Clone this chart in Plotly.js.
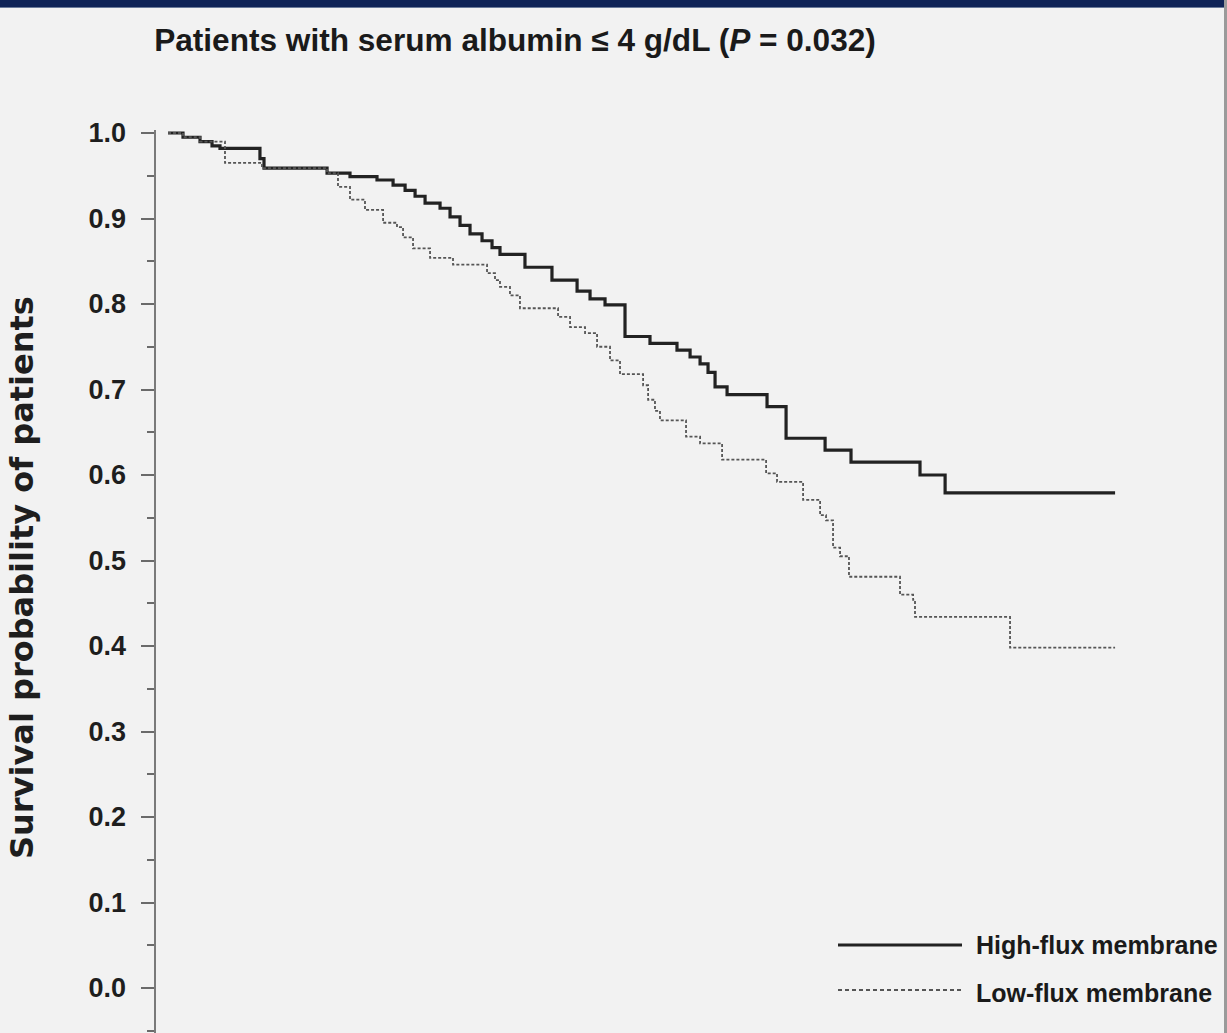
<!DOCTYPE html>
<html>
<head>
<meta charset="utf-8">
<script src="https://cdn.plot.ly/plotly-3.0.1.min.js"></script>
<style>
  html, body { margin: 0; padding: 0; background: #f2f2f2; }
  #wrap { position: relative; width: 1227px; height: 1033px; overflow: hidden; }
  #chart { width: 1227px; height: 1033px; }
  #band { position: absolute; left: 0; top: 0; width: 1227px; height: 7px; background: #0f2357; border-bottom: 1px solid #6a7a9a; }
  #redge { position: absolute; right: 0; top: 0; width: 3px; height: 1033px; background: #9a9a9a; }
</style>
</head>
<body>
<div id="wrap">
  <div id="chart"></div>
  <div id="band"></div>
  <div id="redge"></div>
</div>
<script>
// Follow-up time (years) at which each survival step occurs, and survival after the step
const highFluxTime = [0.000, 0.111, 0.237, 0.326, 0.385, 0.681, 0.711, 1.178, 1.348, 1.548, 1.667, 1.756, 1.830, 1.904, 2.015, 2.089, 2.163, 2.237, 2.326, 2.400, 2.459, 2.644, 2.844, 3.030, 3.126, 3.237, 3.385, 3.570, 3.770, 3.867, 3.941, 4.000, 4.052, 4.141, 4.437, 4.578, 4.867, 5.059, 5.570, 5.756, 7.015];
const highFluxSurv = [1.000, 0.995, 0.990, 0.985, 0.982, 0.970, 0.959, 0.953, 0.949, 0.945, 0.939, 0.933, 0.926, 0.918, 0.912, 0.902, 0.892, 0.882, 0.874, 0.866, 0.858, 0.843, 0.828, 0.815, 0.806, 0.799, 0.762, 0.754, 0.746, 0.738, 0.730, 0.720, 0.703, 0.694, 0.680, 0.643, 0.629, 0.615, 0.600, 0.579, 0.579];

const lowFluxTime = [0.000, 0.111, 0.237, 0.422, 0.696, 1.178, 1.259, 1.348, 1.459, 1.593, 1.696, 1.741, 1.815, 1.941, 2.111, 2.363, 2.422, 2.459, 2.533, 2.607, 2.889, 2.978, 3.089, 3.178, 3.274, 3.348, 3.519, 3.556, 3.607, 3.644, 3.837, 3.941, 4.104, 4.430, 4.511, 4.704, 4.830, 4.874, 4.926, 4.978, 5.044, 5.422, 5.519, 5.533, 6.237, 7.015];
const lowFluxSurv = [1.000, 0.995, 0.990, 0.965, 0.959, 0.953, 0.937, 0.922, 0.910, 0.895, 0.890, 0.878, 0.865, 0.854, 0.846, 0.836, 0.828, 0.820, 0.810, 0.795, 0.785, 0.773, 0.766, 0.750, 0.734, 0.718, 0.705, 0.688, 0.675, 0.664, 0.645, 0.637, 0.618, 0.602, 0.592, 0.571, 0.553, 0.547, 0.515, 0.505, 0.481, 0.460, 0.454, 0.434, 0.398, 0.398];

const yTickVals = [0.0, 0.1, 0.2, 0.3, 0.4, 0.5, 0.6, 0.7, 0.8, 0.9, 1.0];
const yTickText = ["0.0", "0.1", "0.2", "0.3", "0.4", "0.5", "0.6", "0.7", "0.8", "0.9", "1.0"];

const seriesNames = ["High-flux membrane", "Low-flux membrane"];
const titleText = "Patients with serum albumin \u2264 4 g/dL (<i>P</i> = 0.032)";
const yTitleText = "Survival probability of patients";

const narrow = "Liberation Sans Narrow, Liberation Sans, Arial, sans-serif";
const wide = "DejaVu Sans, Verdana, sans-serif";

const traces = [
  {
    x: highFluxTime, y: highFluxSurv, type: "scatter", mode: "lines",
    line: { shape: "hv", color: "#222222", width: 3.2 },
    name: seriesNames[0], showlegend: false, hoverinfo: "x+y"
  },
  {
    x: lowFluxTime, y: lowFluxSurv, type: "scatter", mode: "lines",
    line: { shape: "hv", color: "#555555", width: 1.8, dash: "3px,2px" },
    name: seriesNames[1], showlegend: false, hoverinfo: "x+y"
  }
];

// plot area: left 156px, right edge 1227, top 130, bottom 1033
const W = 1227, H = 1033, L = 156, T = 130;
const pw = W - L, ph = H - T;
function px2paperX(p) { return (p - L) / pw; }
function px2paperY(p) { return (H - p) / ph; }

const layout = {
  width: W, height: H,
  margin: { l: L, r: 0, t: T, b: 0, pad: 0 },
  paper_bgcolor: "#f2f2f2",
  plot_bgcolor: "#f2f2f2",
  showlegend: false,
  title: {
    text: titleText,
    font: { family: narrow, size: 31.6, color: "#1a1a1a", weight: "bold" },
    xref: "paper", x: px2paperX(515), xanchor: "center",
    yref: "container", y: 1 - 40 / H, yanchor: "middle"
  },
  xaxis: {
    visible: false,
    range: [-0.089, 7.844],
    showgrid: false, zeroline: false
  },
  yaxis: {
    range: [-0.0526, 1.0035],
    showgrid: false, zeroline: false,
    showline: true, linecolor: "#7a7a7a", linewidth: 2.5,
    ticks: "outside", ticklen: 13, tickwidth: 2, tickcolor: "#6a6a6a",
    tickvals: yTickVals, ticktext: yTickText,
    ticklabelstandoff: 9,
    tickfont: { family: narrow, size: 27, color: "#1e1e1e", weight: "bold" },
    minor: { dtick: 0.05, tick0: 0, ticks: "outside", ticklen: 7, tickwidth: 2, tickcolor: "#6a6a6a", showgrid: false }
  },
  shapes: [
    { type: "line", xref: "paper", yref: "paper",
      x0: px2paperX(838), x1: px2paperX(962), y0: px2paperY(945), y1: px2paperY(945),
      line: { color: "#222222", width: 3 } },
    { type: "line", xref: "paper", yref: "paper",
      x0: px2paperX(838), x1: px2paperX(962), y0: px2paperY(990), y1: px2paperY(990),
      line: { color: "#555555", width: 1.8, dash: "4px,3px" } }
  ],
  annotations: [
    { xref: "paper", yref: "paper", x: px2paperX(974), y: px2paperY(945),
      xanchor: "left", yanchor: "middle", showarrow: false, text: seriesNames[0],
      font: { family: narrow, size: 25, color: "#1a1a1a", weight: "bold" } },
    { xref: "paper", yref: "paper", x: px2paperX(974), y: px2paperY(993),
      xanchor: "left", yanchor: "middle", showarrow: false, text: seriesNames[1],
      font: { family: narrow, size: 25, color: "#1a1a1a", weight: "bold" } },
    { xref: "paper", yref: "paper", x: px2paperX(22), y: px2paperY(578),
      xanchor: "center", yanchor: "middle", showarrow: false, textangle: -90,
      text: yTitleText,
      font: { family: wide, size: 32, color: "#1e1e1e", weight: "bold" } }
  ]
};

Plotly.newPlot("chart", traces, layout, { displayModeBar: false, staticPlot: true });
</script>
</body>
</html>
